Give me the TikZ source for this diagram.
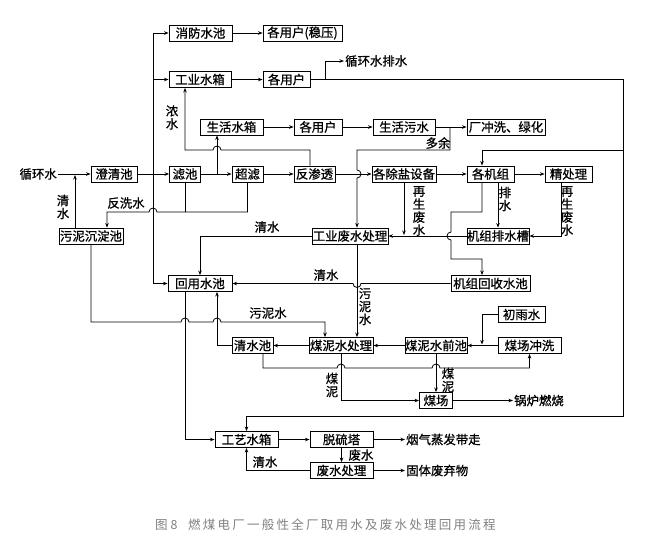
\documentclass[tikz,border=0pt]{standalone}
\usepackage{fontspec}
\newfontfamily\cjk[FakeBold=0.9]{Noto Sans CJK SC}
\newfontfamily\cjklight{Noto Sans CJK SC}
\newfontfamily\capfont[LetterSpace=18]{Noto Sans CJK SC}
\usetikzlibrary{arrows.meta}
\begin{document}
\begin{tikzpicture}[x=1pt,y=-1pt,
  bx/.style={draw, line width=0.9pt, minimum height=16pt, inner sep=0pt, fill=white, font=\cjk\fontsize{12.4}{13}\selectfont},
  lb/.style={inner sep=1pt, font=\cjk\fontsize{12.4}{13}\selectfont},
  vl/.style={inner sep=0pt, align=center, font=\cjk\fontsize{12.4}{13}\selectfont},
  captext/.style={inner sep=0pt, anchor=west, text=black!50},
  ln/.style={line width=0.8pt},
  ar/.style={ln, -{Stealth[length=4.5pt,width=3.5pt]}}]
\useasboundingbox (0,0) rectangle (656,558);

% boxes
\node[bx, minimum width=63pt] (xf)    at (200.5,33)  {消防水池};
\node[bx, minimum width=79pt] (yh1)   at (302.5,33)  {各用户(稳压)};
\node[bx, minimum width=62pt] (gysx)  at (200,79.5)  {工业水箱};
\node[bx, minimum width=47pt] (yh2)   at (286.5,79.5){各用户};
\node[bx, minimum width=63pt] (shsx)  at (231.5,127) {生活水箱};
\node[bx, minimum width=48pt] (yh3)   at (318,127)   {各用户};
\node[bx, minimum width=62pt] (shws)  at (404,127)   {生活污水};
\node[bx, minimum width=78pt] (cxlh)  at (506,127)   {厂冲洗、绿化};
\node[bx, minimum width=46pt] (cqc)   at (114,174)   {澄清池};
\node[bx, minimum width=31pt] (lc)    at (185,174)   {滤池};
\node[bx, minimum width=31pt] (cl)    at (247.5,174) {超滤};
\node[bx, minimum width=41pt] (fst)   at (314.5,174) {反渗透};
\node[bx, minimum width=64pt] (cysb)  at (404,174)   {各除盐设备};
\node[bx, minimum width=47pt] (gjz)   at (490.5,174) {各机组};
\node[bx, minimum width=47pt] (jcl)   at (568.5,174) {精处理};
\node[bx, minimum width=64pt] (wnc)   at (91,236)    {污泥沉淀池};
\node[bx, minimum width=76pt] (gyfs)  at (350,236)   {工业废水处理};
\node[bx, minimum width=62pt] (jzps)  at (498,236)   {机组排水槽};
\node[bx, minimum width=64pt] (hysc)  at (200,283.5) {回用水池};
\node[bx, minimum width=79pt] (jzhs)  at (490.5,283.5){机组回收水池};
\node[bx, minimum width=47pt] (cys)   at (521.5,314.5){初雨水};
\node[bx, minimum width=41pt] (qsc)   at (252.5,345.5){清水池};
\node[bx, minimum width=64pt] (mnscl) at (341,345.5) {煤泥水处理};
\node[bx, minimum width=62pt] (mnsqc) at (436,345.5) {煤泥水前池};
\node[bx, minimum width=63pt] (mccx)  at (529.5,345.5){煤场冲洗};
\node[bx, minimum width=33pt] (mc)    at (436,400.5) {煤场};
\node[bx, minimum width=63pt] (gysx2) at (246.5,439.5){工艺水箱};
\node[bx, minimum width=63pt] (tlt)   at (341.5,439.5){脱硫塔};
\node[bx, minimum width=63pt] (fscl)  at (341.5,470.5){废水处理};

% free text
\node[lb, anchor=east] (xhs)  at (58,174)  {循环水};
\node[lb, anchor=west] (xhps) at (344,61)  {循环水排水};
\node[lb, anchor=west] (glrs) at (513,400.5) {锅炉燃烧};
\node[lb, anchor=west] (yqzf) at (405,439.5) {烟气蒸发带走};
\node[lb, anchor=west] (gtfq) at (405,470.5) {固体废弃物};
\node[vl] (lnongs) at (172,117.5) {浓\\水};
\node[lb] (ldy)    at (438,143)   {多余};
\node[vl] (lqs1)   at (63,207)    {清\\水};
\node[lb] (lfxs)   at (126,203)   {反洗水};
\node[vl] (lzs1)   at (419,211)   {再\\生\\废\\水};
\node[vl] (lps)    at (505,199)   {排\\水};
\node[vl] (lzs2)   at (567,211)   {再\\生\\废\\水};
\node[lb] (lqs2)   at (267,227)   {清水};
\node[lb] (lqs3)   at (326,275)   {清水};
\node[vl] (lwns1)  at (365,306.5) {污\\泥\\水};
\node[lb] (lwns2)  at (268,313)   {污泥水};
\node[vl] (lmn1)   at (332,385)   {煤\\泥};
\node[vl] (lmn2)   at (448,380)   {煤\\泥};
\node[lb] (lfs)    at (361,455)   {废水};
\node[lb] (lqs4)   at (265,462)   {清水};
\node[captext, font=\cjklight\fontsize{12.5}{13}\selectfont] (cap1) at (155,525) {图 8};
\node[captext, font=\capfont\fontsize{12.5}{13}\selectfont] (cap2) at (188,525) {燃煤电厂一般性全厂取用水及废水处理回用流程};

% junction coordinates
\coordinate (j153) at (153,174);
\coordinate (j217) at (217,174);
\coordinate (rtop) at (623,79.5);
\coordinate (rbot) at (623,416);
\coordinate (r150) at (623,150);
\coordinate (dy)   at (450,127);
\coordinate (g357) at ([xshift=7pt]gyfs.south);

% connectors
\draw[ar] (xhs.east) -- (cqc.west);
\draw[ar] (cqc.east) -- (lc.west);
\draw[ar] (j153) |- (xf.west);
\draw[ar] (j153) |- (gysx.west);
\draw[ar] (j153) |- (hysc.west);
\draw[ar] (xf.east) -- (yh1.west);
\draw[ar] (gysx.east) -- (yh2.west);
\draw[ar] (yh2.east) -- (rtop) -- (rbot) -| (gysx2.north);
\draw[ar] (325,79.5) |- (xhps.west);
\draw[ar] (r150) -| ([xshift=-8.5pt]gjz.north);
\draw[ar] (shsx.east) -- (yh3.west);
\draw[ar] (yh3.east) -- (shws.west);
\draw[ar] (shws.east) -- (cxlh.west);
\draw[ar] (dy) |- (357,150) -- (357,170) arc[start angle=90,end angle=-90,radius=4pt] -- ([xshift=7pt]gyfs.north);
\draw[ar] ([xshift=-4.5pt]fst.north) -- (310,150) -- (221,150) arc[start angle=0,end angle=180,radius=4pt] -- (185,150) -- ([xshift=-15pt]gysx.south);
\draw[ar] (j217) -- (shsx.south -| j217);
\draw[ar] (lc.east) -- (cl.west);
\draw[ar] (cl.east) -- (fst.west);
\draw[ar] (fst.east) -- (cysb.west);
\draw[ar] (cysb.east) -- (gjz.west);
\draw[ar] (gjz.east) -- (jcl.west);
\draw[ar] (cysb.south) -- (404,235);
\draw[ar] (jzps.west) -- (gyfs.east);
\draw[ar] (jzps.north |- gjz.south) -- (jzps.north);
\draw[ar] ([xshift=-7.5pt]jcl.south) |- (jzps.east);
\draw[ar] ([xshift=-8.5pt]gjz.south) -- (482,212) -- (451,212) -- (451,232) arc[start angle=90,end angle=270,radius=4pt] -- (451,259) -- (482,259) -- ([xshift=-8.5pt]jzhs.north);
\draw[ar] (jzhs.west) -- (361,283.5) arc[start angle=0,end angle=-180,radius=4pt] -- (hysc.east);
\draw[ar] (gyfs.west) -| (hysc.north);
\draw[ar] (g357) -- (g357 |- mnscl.north);
\draw[ar] (wnc.south) -- (91,322) -- (181,322) arc[start angle=180,end angle=0,radius=4pt] -- (213,322) arc[start angle=180,end angle=0,radius=4pt] -- (325,322) -- ([xshift=-16pt]mnscl.north);
\draw[ln] (lc.south) -- (185,212);
\draw[ar] (cl.south) -- (247.5,212) -- (157,212) arc[start angle=0,end angle=180,radius=4pt] -- (107,212) -- ([xshift=16pt]wnc.north);
\draw[ar] ([xshift=-16pt]wnc.north) -- (75,175);
\draw[ar] ([xshift=-15pt]hysc.south) |- (gysx2.west);
\draw[ar] (qsc.west) -| ([xshift=17pt]hysc.south);
\draw[ar] (mnscl.west) -- (qsc.east);
\draw[ar] (mnsqc.west) -- (mnscl.east);
\draw[ar] (mccx.west) -- (mnsqc.east);
\draw[ar] (cys.west) -| (482,344.5);
\draw[ar] ([xshift=10.5pt]qsc.south) -- (263,368) -- (337,368) arc[start angle=180,end angle=0,radius=4pt] -- (432,368) arc[start angle=180,end angle=0,radius=4pt] -- (529.5,368) -- (mccx.south);
\draw[ar] (mnscl.south) |- (mc.west);
\draw[ar] (mnsqc.south) -- (mc.north);
\draw[ar] (mc.east) -- (glrs.west);
\draw[ar] (gysx2.east) -- (tlt.west);
\draw[ar] (tlt.east) -- (yqzf.west);
\draw[ar] (tlt.south) -- (fscl.north);
\draw[ar] (fscl.east) -- (gtfq.west);
\draw[ar] (fscl.west) -| (gysx2.south);
\end{tikzpicture}
\end{document}
